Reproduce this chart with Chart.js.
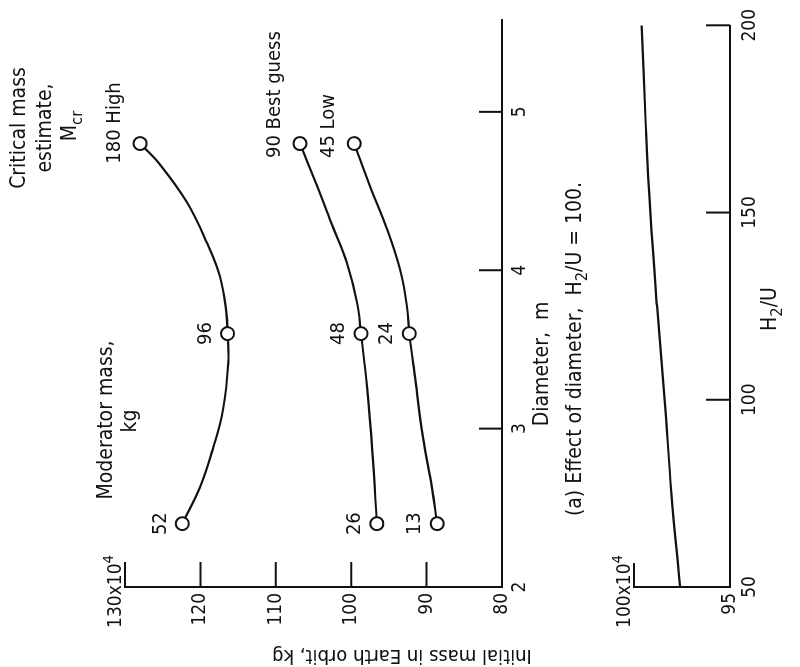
<!DOCTYPE html>
<html>
<head>
<meta charset="utf-8">
<script src="https://cdn.jsdelivr.net/npm/chart.js@4.4.1/dist/chart.umd.min.js"></script>
<style>
html,body{margin:0;padding:0;background:#fff;width:800px;height:667px;overflow:hidden}
#fig{position:absolute;left:0;top:0;width:667px;height:800px;transform-origin:0 0;transform:translate(0,667px) rotate(-90deg);background:#fff}
#fig canvas{position:absolute;left:0;top:0}
</style>
</head>
<body>
<div id="fig">
  <canvas id="c1" width="667" height="800"></canvas>
  <canvas id="c2" width="667" height="800"></canvas>
</div>
<script>
// ---------- data ----------
const diameterTicks = [2, 3, 4, 5];
const massTicksA = [80, 90, 100, 110, 120, 130];
const ratioTicks = [50, 100, 150, 200];
const massTicksB = [95, 100];

const markerDiameters = [2.4, 3.6, 4.8];
const highMarkers = [122.4, 116.4, 128.0];
const bestMarkers = [96.6, 98.7, 106.8];
const lowMarkers = [88.6, 92.3, 99.6];
const highModerator = ['52', '96', '180 High'];
const bestModerator = ['26', '48', '90 Best guess'];
const lowModerator = ['13', '24', '45 Low'];

const highCurveD = [2.4, 2.63, 2.88, 3.12, 3.42, 3.6, 3.73, 3.96, 4.17, 4.43, 4.67, 4.8];
const highCurveM = [122.4, 120.05, 118.3, 117.0, 116.3, 116.4, 116.55, 117.4, 119.1, 121.8, 125.4, 128.0];
const bestCurveD = [2.4, 2.85, 3.26, 3.6, 3.79, 4.05, 4.27, 4.53, 4.8];
const bestCurveM = [96.6, 97.2, 97.9, 98.7, 99.2, 100.6, 102.4, 104.5, 106.8];
const lowCurveD = [2.4, 2.63, 2.95, 3.31, 3.6, 3.77, 4.0, 4.26, 4.53, 4.8];
const lowCurveM = [88.6, 89.3, 90.5, 91.5, 92.3, 92.6, 93.5, 95.25, 97.5, 99.6];

const ratioValues = [50, 75, 100, 125, 150, 175, 200];
const ratioMass = [97.6, 98.05, 98.4, 98.8, 99.15, 99.4, 99.6];

// ---------- style ----------
const INK = '#111';
const FAMILY = '"Liberation Sans Narrow", "DejaVu Sans Condensed", "Liberation Sans", sans-serif';
const fontStr = s => `${s}px ${FAMILY}`;
const pts = (xs, ys) => xs.map((x, i) => ({x, y: ys[i]}));

function rich(ctx, parts, x, y, size, align) {
  const sizes = parts.map(p => p[1] ? size * 0.78 : size);
  const widths = parts.map((p, i) => { ctx.font = fontStr(sizes[i]); return ctx.measureText(p[0]).width; });
  const total = widths.reduce((a, b) => a + b, 0);
  let cx = align === 'center' ? x - total / 2 : align === 'right' ? x - total : x;
  ctx.textAlign = 'left';
  ctx.textBaseline = 'middle';
  parts.forEach((p, i) => {
    ctx.font = fontStr(sizes[i]);
    const dy = p[1] === 1 ? size * 0.32 : p[1] === 2 ? -size * 0.38 : 0;
    ctx.fillText(p[0], cx, y + dy);
    cx += widths[i];
  });
}

function inwardTicks(chart, xLen, yLen) {
  const ctx = chart.ctx, xs = chart.scales.x, ys = chart.scales.y, a = chart.chartArea;
  ctx.save();
  ctx.strokeStyle = INK; ctx.lineWidth = 2;
  ctx.beginPath();
  xs.ticks.forEach(t => { const px = xs.getPixelForValue(t.value); ctx.moveTo(px, a.bottom); ctx.lineTo(px, a.bottom - xLen); });
  ys.ticks.forEach(t => { const py = ys.getPixelForValue(t.value); ctx.moveTo(a.left, py); ctx.lineTo(a.left + yLen, py); });
  ctx.stroke();
  ctx.restore();
}

const labelPlugin = {
  id: 'labels1',
  afterDraw(chart) {
    const ctx = chart.ctx, a = chart.chartArea;
    inwardTicks(chart, 23, 25);
    ctx.save();
    ctx.fillStyle = INK;
    // point labels (moderator mass)
    [4, 5, 6].forEach(di => {
      const ds = chart.data.datasets[di];
      const meta = chart.getDatasetMeta(di);
      meta.data.forEach((el, i) => {
        const txt = ds.labels[i];
        ctx.font = fontStr(20);
        ctx.textBaseline = 'middle';
        if (i < 2) {
          ctx.textAlign = 'center';
          ctx.fillText(txt, el.x, el.y - 22);
        } else {
          const num = txt.split(' ')[0];
          const w = ctx.measureText(num).width;
          ctx.textAlign = 'left';
          ctx.fillText(txt, el.x - w / 2 - 3, el.y - 25);
        }
      });
    });
    // top mass label
    rich(ctx, [['130x10', 0], ['4', 2]], a.left + 32, a.top - 9, 19, 'right');
    // annotations
    ctx.font = fontStr(21);
    ctx.textAlign = 'center'; ctx.textBaseline = 'middle';
    ctx.fillText('Critical mass', 539, 20);
    ctx.fillText('estimate,', 539, 46);
    rich(ctx, [['M', 0], ['cr', 1]], 541, 71, 21, 'center');
    ctx.font = fontStr(21); ctx.textAlign = 'center';
    ctx.fillText('Moderator mass,', 247, 107);
    ctx.fillText('kg', 246, 131);
    ctx.fillText('Diameter,  m', 303, 543);
    rich(ctx, [['(a) Effect of diameter,  H', 0], ['2', 1], ['/U = 100.', 0]], 318, 576, 21, 'center');
    // shared y-axis title
    ctx.translate(12, 402);
    ctx.rotate(-Math.PI / 2);
    ctx.font = fontStr(20); ctx.textAlign = 'center'; ctx.textBaseline = 'middle';
    ctx.fillText('Initial mass in Earth orbit, kg', 0, 0);
    ctx.restore();
  }
};

const labelPlugin2 = {
  id: 'labels2',
  afterDraw(chart) {
    const ctx = chart.ctx, a = chart.chartArea;
    inwardTicks(chart, 24, 24);
    ctx.save();
    ctx.fillStyle = INK;
    rich(ctx, [['100x10', 0], ['4', 2]], a.left + 32, a.top - 9, 19, 'right');
    rich(ctx, [['H', 0], ['2', 1], ['/U', 0]], 358, 771, 21, 'center');
    ctx.restore();
  }
};

function axisOpts(min, max, tickList, isX, fixed, pad, topVal) {
  return {
    type: 'linear', min, max,
    afterBuildTicks: s => { s.ticks = tickList.map(v => ({value: v})); },
    afterFit: s => { if (isX) s.height = fixed; else s.width = fixed; },
    grid: {display: false, drawTicks: false},
    border: {display: true, color: INK, width: 2},
    ticks: {
      color: INK, font: {family: FAMILY, size: 19}, padding: pad,
      maxRotation: 0, minRotation: 0, autoSkip: false, includeBounds: false,
      callback: v => (topVal !== undefined && v === topVal) ? '' : String(v)
    }
  };
}

const lineDs = (d, m) => ({data: pts(d, m), showLine: true, pointRadius: 0, borderColor: INK, borderWidth: 2.2, tension: 0.4, order: 2});
const markDs = (m, labels) => ({data: pts(markerDiameters, m), labels, showLine: false, pointRadius: 6.5, pointBackgroundColor: '#fff', pointBorderColor: INK, pointBorderWidth: 2, order: 1});

new Chart(document.getElementById('c1'), {
  type: 'scatter',
  data: {datasets: [
    lineDs(highCurveD, highCurveM),
    lineDs(bestCurveD, bestCurveM),
    lineDs(lowCurveD, lowCurveM),
    {data: []},
    markDs(highMarkers, highModerator),
    markDs(bestMarkers, bestModerator),
    markDs(lowMarkers, lowModerator)
  ]},
  options: {
    responsive: false, animation: false, devicePixelRatio: 1,
    layout: {padding: {left: 0, top: 125, right: 20, bottom: 258}},
    plugins: {legend: {display: false}, tooltip: {enabled: false}},
    scales: {
      x: axisOpts(2, 5.58, diameterTicks, true, 40, 7),
      y: axisOpts(80, 130, massTicksA, false, 80, 6, 130)
    }
  },
  plugins: [labelPlugin]
});

new Chart(document.getElementById('c2'), {
  type: 'scatter',
  data: {datasets: [
    {data: pts(ratioValues, ratioMass), showLine: true, pointRadius: 0, borderColor: INK, borderWidth: 2.2, tension: 0.4}
  ]},
  options: {
    responsive: false, animation: false, devicePixelRatio: 1,
    layout: {padding: {left: 0, top: 634, right: 19, bottom: 30}},
    plugins: {legend: {display: false}, tooltip: {enabled: false}},
    scales: {
      x: axisOpts(50, 200, ratioTicks, true, 40, 9),
      y: axisOpts(95, 100, massTicksB, false, 80, 6, 100)
    }
  },
  plugins: [labelPlugin2]
});
</script>
</body>
</html>
